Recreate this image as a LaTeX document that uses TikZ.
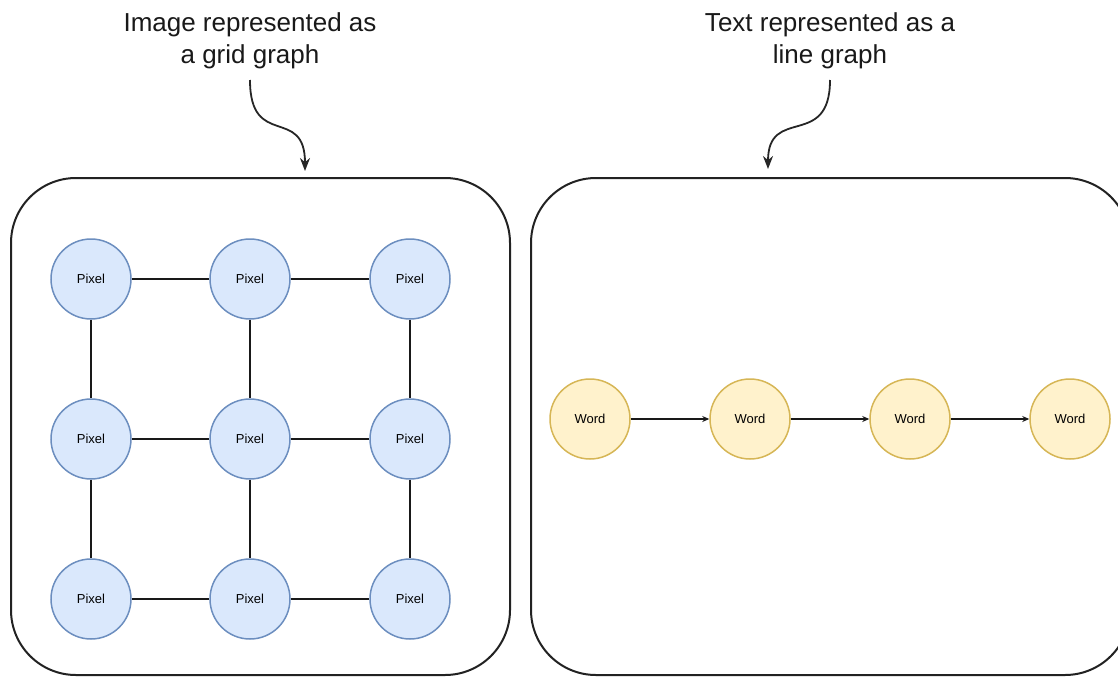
\documentclass[tikz,border=0pt]{standalone}
\usepackage{fontspec}
\setmainfont{Liberation Sans}
\usetikzlibrary{arrows.meta}
\definecolor{pixfill}{HTML}{DAE8FC}
\definecolor{pixline}{HTML}{6C8EBF}
\definecolor{wordfill}{HTML}{FFF2CC}
\definecolor{wordline}{HTML}{D6B656}
\definecolor{frame}{HTML}{222222}
\tikzset{
  pixel/.style={circle, minimum size=80pt, inner sep=0pt, fill=pixfill, draw=pixline, line width=1.5pt, font=\fontsize{13}{15}\selectfont},
  word/.style={circle, minimum size=80pt, inner sep=0pt, fill=wordfill, draw=wordline, line width=1.5pt, font=\fontsize{13}{15}\selectfont},
  panel/.style={draw=frame, line width=2pt, rounded corners=65pt},
  edge/.style={line width=1.8pt, draw=black!90},
  seq/.style={line width=1.8pt, draw=black!90, -{Stealth[length=7pt,width=6pt]}},
  pointer/.style={line width=1.8pt, draw=black!85, -{Stealth[length=13pt,width=10pt]}},
  caption/.style={align=center, font=\fontsize{26}{32}\selectfont, text=black!90}
}
\begin{document}
\begin{tikzpicture}[x=1pt, y=-1pt]
\useasboundingbox (0,0) rectangle (1118,677);
\clip (0,0) rectangle (1118,677);

% frames
\draw[panel] (11,178) rectangle (510,675);
\draw[panel] (531,178) rectangle (1130,675);

% captions
\node[caption] (capL) at (250,41) {Image represented as\\a grid graph};
\node[caption] (capR) at (830,41) {Text represented as a\\line graph};
\coordinate (capLend) at (250,80);
\coordinate (capRend) at (830,80);
\coordinate (tipL) at (305,171);
\coordinate (tipR) at (768,169);

\draw[pointer] (capLend) .. controls (250,150) and (305,105) .. (tipL);
\draw[pointer] (capRend) .. controls (830,150) and (768,105) .. (tipR);

% grid graph
\foreach \i/\x in {1/91,2/250,3/410}{
  \foreach \j/\y in {1/279,2/439,3/599}{
    \node[pixel] (p\i\j) at (\x,\y) {Pixel};
  }
}
\foreach \j in {1,2,3}{
  \draw[edge] (p1\j) -- (p2\j);
  \draw[edge] (p2\j) -- (p3\j);
  \draw[edge] (p\j1) -- (p\j2);
  \draw[edge] (p\j2) -- (p\j3);
}

% line graph
\foreach \k/\x in {1/590,2/750,3/910,4/1070}{
  \node[word] (w\k) at (\x,419) {Word};
}
\draw[seq] (w1) -- (w2);
\draw[seq] (w2) -- (w3);
\draw[seq] (w3) -- (w4);
\end{tikzpicture}
\end{document}
